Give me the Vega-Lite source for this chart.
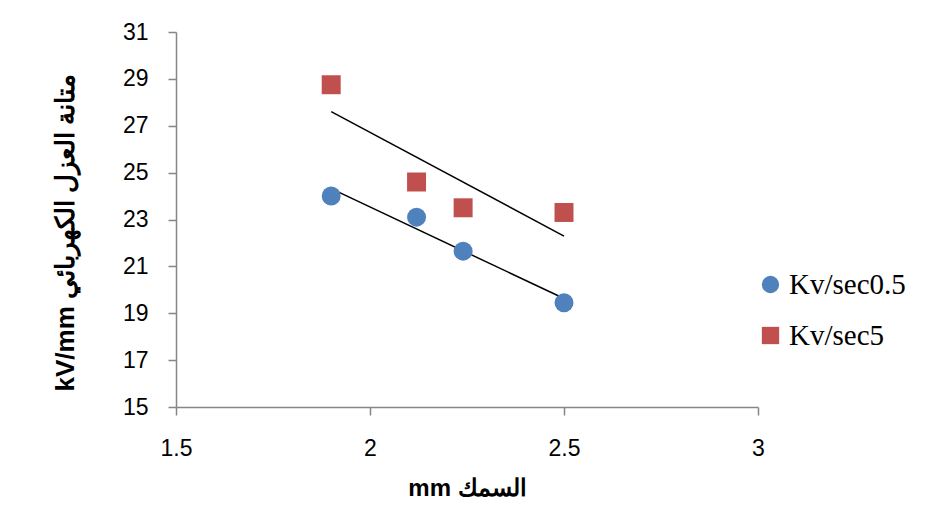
{
  "$schema": "https://vega.github.io/schema/vega-lite/v6.json",
  "width": 582,
  "height": 375,
  "autosize": {"type": "none"},
  "padding": {"left": 176, "top": 32, "right": 175, "bottom": 110},
  "background": "white",
  "config": {
    "view": {"stroke": null},
    "axis": {
      "grid": false,
      "domainColor": "#868686",
      "domainWidth": 1.5,
      "tickColor": "#868686",
      "tickWidth": 1.5,
      "tickSize": 8,
      "labelFont": "Liberation Sans",
      "labelFontSize": 23,
      "labelColor": "#000000",
      "labelFlush": false,
      "titleFont": "Liberation Sans",
      "titleFontWeight": "bold",
      "titleColor": "#000000"
    }
  },
  "data": {
    "values": [
      {"series": "Kv/sec0.5", "x": 1.9, "y": 24.0},
      {"series": "Kv/sec0.5", "x": 2.12, "y": 23.1},
      {"series": "Kv/sec0.5", "x": 2.24, "y": 21.65},
      {"series": "Kv/sec0.5", "x": 2.5, "y": 19.45},
      {"series": "Kv/sec5", "x": 1.9, "y": 28.75},
      {"series": "Kv/sec5", "x": 2.12, "y": 24.6},
      {"series": "Kv/sec5", "x": 2.24, "y": 23.5},
      {"series": "Kv/sec5", "x": 2.5, "y": 23.3}
    ]
  },
  "layer": [
    {
      "transform": [
        {"regression": "y", "on": "x", "groupby": ["series"]}
      ],
      "mark": {"type": "line", "color": "#000000", "strokeWidth": 1.5},
      "encoding": {
        "x": {"field": "x", "type": "quantitative"},
        "y": {"field": "y", "type": "quantitative"},
        "detail": {"field": "series"}
      }
    },
    {
      "mark": {"type": "point", "filled": true, "opacity": 1, "size": 360},
      "encoding": {
        "x": {
          "field": "x",
          "type": "quantitative",
          "scale": {"domain": [1.5, 3], "nice": false, "zero": false},
          "axis": {
            "values": [1.5, 2, 2.5, 3],
            "format": "~g",
            "labelPadding": 22,
            "title": "mm السمك",
            "titleFontSize": 24,
            "titlePadding": 16
          }
        },
        "y": {
          "field": "y",
          "type": "quantitative",
          "scale": {"domain": [15, 31], "nice": false, "zero": false},
          "axis": {
            "values": [15, 17, 19, 21, 23, 25, 27, 29, 31],
            "labelPadding": 20,
            "title": "kV/mm متانة العزل الكهربائي",
            "titleFontSize": 26,
            "titlePadding": 44,
            "titleY": 200
          }
        },
        "color": {
          "field": "series",
          "type": "nominal",
          "scale": {"domain": ["Kv/sec0.5", "Kv/sec5"], "range": ["#4F81BD", "#C0504D"]},
          "legend": {
            "orient": "none",
            "legendX": 580,
            "legendY": 238,
            "title": null,
            "padding": 0,
            "symbolSize": 300,
            "symbolOpacity": 1,
            "labelFont": "Liberation Serif",
            "labelFontSize": 29,
            "labelColor": "#000000",
            "labelOffset": 4,
            "rowPadding": 21
          }
        },
        "shape": {
          "field": "series",
          "type": "nominal",
          "scale": {"domain": ["Kv/sec0.5", "Kv/sec5"], "range": ["circle", "square"]}
        }
      }
    }
  ]
}
